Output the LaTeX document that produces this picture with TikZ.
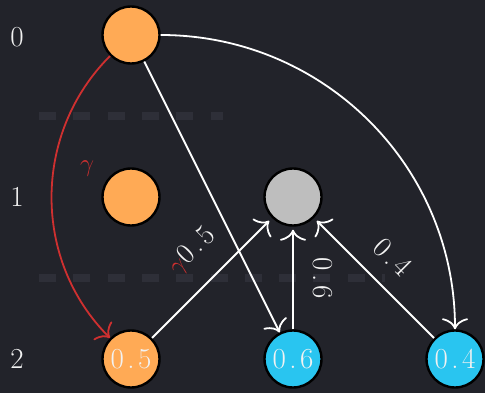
\documentclass[tikz,border=0pt]{standalone}
\usetikzlibrary{arrows.meta}

\definecolor{bgcol}{HTML}{22232A}
\definecolor{rowline}{HTML}{2E2F38}
\definecolor{orangefill}{HTML}{FFAA55}
\definecolor{bluefill}{HTML}{29C5F0}
\definecolor{grayfill}{HTML}{BEBEBE}
\definecolor{redline}{HTML}{CF3030}
\definecolor{textwhite}{HTML}{F2F2F2}

% decimal numbers with loose spacing around the point
\newcommand{\decnum}[2]{#1\kern3.5pt.\kern3.5pt#2}

\tikzset{
  state/.style={circle, draw=black, line width=2.4pt, minimum size=57pt,
                inner sep=0pt, text=textwhite},
  orangestate/.style={state, fill=orangefill},
  bluestate/.style={state, fill=bluefill},
  graystate/.style={state, fill=grayfill},
  rowlabel/.style={text=textwhite},
  edgeline/.style={draw=white, line width=1.8pt,
                   -{Computer Modern Rightarrow[length=11pt,width=26pt,line width=1.8pt]}},
  rededge/.style={draw=redline, line width=1.8pt,
                  -{Computer Modern Rightarrow[length=11pt,width=26pt,line width=1.8pt]}},
  rowsep/.style={draw=rowline, line width=8pt, dash pattern=on 17pt off 17.3pt},
  edgelabel/.style={text=textwhite, inner sep=0pt}
}

\begin{document}
\begin{tikzpicture}[x=1pt, y=-1pt, font=\fontsize{29}{34}\selectfont]
  % canvas
  \fill[bgcol] (0,0) rectangle (485,393);
  \useasboundingbox (0,0) rectangle (485,393);

  % row separators
  \draw[rowsep] (39,116) -- (223,116);
  \draw[rowsep] (39,278) -- (385,278);

  % row numbers
  \node[rowlabel] (r0) at (17,37) {0};
  \node[rowlabel] (r1) at (17,197) {1};
  \node[rowlabel] (r2) at (17,359) {2};

  % states
  \node[orangestate] (a0) at (131,35) {};
  \node[orangestate] (a1) at (131,197) {};
  \node[graystate]   (g1) at (293,197) {};
  \node[orangestate] (a2) at (131,359) {\decnum{0}{5}};
  \node[bluestate]   (b2) at (293,359) {\decnum{0}{6}};
  \node[bluestate]   (c2) at (455,359) {\decnum{0}{4}};

  % transitions out of the top state
  \draw[rededge] (a0) to[out=225, in=135]
    node[pos=0.4, xshift=33pt, yshift=-2pt, text=redline] (gam) {$\gamma$} (a2);
  \draw[edgeline] (a0) -- (b2);
  \draw[edgeline] (a0) to[out=0, in=90] (c2);

  % transitions into the gray state
  \draw[edgeline, shorten >=4pt] (a2) --
    node[pos=0.5, xshift=-20pt, yshift=27pt, rotate=45, edgelabel] (l5)
      {\textcolor{redline}{$\gamma$}\decnum{0}{5}} (g1);
  \draw[edgeline, shorten >=3pt] (b2) --
    node[pos=0.5, xshift=30pt, rotate=-90, edgelabel] (l6) {\decnum{0}{6}} (g1);
  \draw[edgeline, shorten >=4pt] (c2) --
    node[pos=0.5, xshift=19pt, yshift=21pt, rotate=-45, edgelabel] (l4) {\decnum{0}{4}} (g1);
\end{tikzpicture}
\end{document}
